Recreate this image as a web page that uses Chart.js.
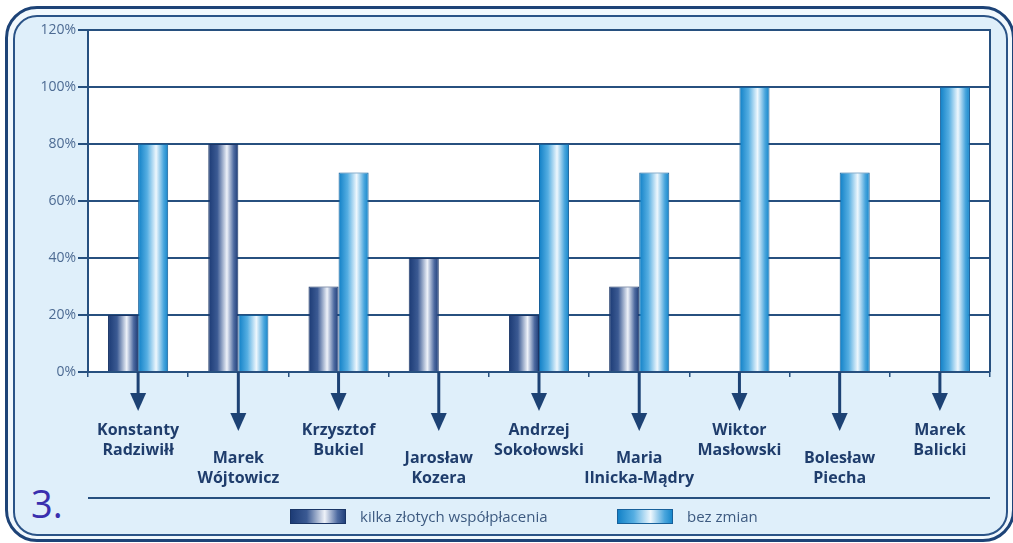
<!DOCTYPE html>
<html>
<head>
<meta charset="utf-8">
<script src="https://cdn.jsdelivr.net/npm/chart.js@4.4.1/dist/chart.umd.min.js"></script>
<style>
  html, body { margin: 0; padding: 0; background: #fff; }
  #wrap { position: relative; width: 1013px; height: 543px; overflow: hidden; }
  #outer { position: absolute; left: 5px; top: 6px; width: 1004px; height: 530px;
           border: 3px solid #1d4377; border-radius: 32px; background: #f1f8fd; }
  #inner { position: absolute; left: 13px; top: 15px; width: 991px; height: 517px;
           border: 2px solid #2a5387; border-radius: 24px; background: #dfeffa; }
  #num { position: absolute; left: 31px; top: 484px; font: 38px "Open Sans", sans-serif;
         color: #3a2fae; line-height: 1; }
  canvas { position: absolute; left: 0; top: 0; }
</style>
</head>
<body>
<div id="wrap">
  <div id="outer"></div>
  <div id="inner"></div>
  <div id="num">3.</div>
  <canvas id="chart_cv" width="1013" height="543"></canvas>
</div>
<script>
  // データ
  const categories = [
    ['Konstanty', 'Radziwiłł'],
    ['Marek', 'Wójtowicz'],
    ['Krzysztof', 'Bukiel'],
    ['Jarosław', 'Kozera'],
    ['Andrzej', 'Sokołowski'],
    ['Maria', 'Ilnicka-Mądry'],
    ['Wiktor', 'Masłowski'],
    ['Bolesław', 'Piecha'],
    ['Marek', 'Balicki']
  ];
  const seriesNames = ['kilka złotych współpłacenia', 'bez zmian'];
  const kilkaZlotych = [20, 80, 30, 40, 20, 30, null, null, null];
  const bezZmian = [80, 20, 70, null, 80, 70, 100, 70, 100];
  const yTicks = [0, 20, 40, 60, 80, 100, 120];

  const navy = '#27507f';
  const darkStops = [[0, '#1b3a74'], [0.3, '#3b5a93'], [0.62, '#eef2f9'], [0.85, '#4d6aa0'], [1, '#1c3b76']];
  const blueStops = [[0, '#0f7fc6'], [0.3, '#55aee2'], [0.6, '#eef7fd'], [0.85, '#4aa6dd'], [1, '#1284c9']];
  const CAT_PCT = 0.6;

  // 棒のグラデーション
  function barGrad(stops) {
    return function (ctx) {
      const chart = ctx.chart;
      if (!chart.chartArea || ctx.dataIndex === undefined) return stops[2][1];
      const xs = chart.scales.x;
      const cw = xs.width / categories.length;
      const bw = cw * CAT_PCT / 2;
      const left = xs.getPixelForValue(ctx.dataIndex) - cw * CAT_PCT / 2 + ctx.datasetIndex * bw;
      const g = chart.ctx.createLinearGradient(left, 0, left + bw, 0);
      stops.forEach(s => g.addColorStop(s[0], s[1]));
      return g;
    };
  }

  // 背景・矢印・ラベル・凡例
  const decor = {
    id: 'decor',
    beforeDraw(chart) {
      const a = chart.chartArea, c = chart.ctx;
      c.save();
      c.fillStyle = '#ffffff';
      c.fillRect(a.left, a.top, a.right - a.left, a.bottom - a.top);
      c.restore();
    },
    afterDraw(chart) {
      const a = chart.chartArea, c = chart.ctx, xs = chart.scales.x;
      c.save();
      // 右の枠線
      c.strokeStyle = navy; c.lineWidth = 2;
      c.beginPath(); c.moveTo(a.right, a.top - 1); c.lineTo(a.right, a.bottom); c.stroke();
      // 矢印と名前
      categories.forEach((lines, i) => {
        const x = xs.getPixelForValue(i);
        const low = i % 2 === 1;
        const tip = low ? 431 : 411;
        c.strokeStyle = '#1d4274'; c.fillStyle = '#1d4274'; c.lineWidth = 3;
        c.beginPath(); c.moveTo(x, a.bottom); c.lineTo(x, tip - 14); c.stroke();
        c.beginPath(); c.moveTo(x - 8, tip - 18); c.lineTo(x + 8, tip - 18); c.lineTo(x, tip); c.closePath(); c.fill();
        c.fillStyle = '#1f3d6c';
        c.font = 'bold 16px "Open Sans", sans-serif';
        c.textAlign = 'center'; c.textBaseline = 'middle';
        const y0 = low ? 458 : 430;
        lines.forEach((t, k) => c.fillText(t, x, y0 + k * 20));
      });
      // 凡例
      c.strokeStyle = navy; c.lineWidth = 2;
      c.beginPath(); c.moveTo(a.left, 498); c.lineTo(a.right, 498); c.stroke();
      const boxes = [[290, 360], [617, 687]];
      chart.data.datasets.forEach((ds, i) => {
        const bx = boxes[i][0], by = 509, bw = 56, bh = 15;
        const g = c.createLinearGradient(bx, 0, bx + bw, 0);
        ds.stops.forEach(s => g.addColorStop(s[0], s[1]));
        c.fillStyle = g; c.fillRect(bx, by, bw, bh);
        c.strokeStyle = ds.borderColor; c.lineWidth = 1; c.strokeRect(bx + 0.5, by + 0.5, bw - 1, bh - 1);
        c.fillStyle = '#3d5a80';
        c.font = '15px "Open Sans", sans-serif';
        c.textAlign = 'left'; c.textBaseline = 'middle';
        c.fillText(ds.label, boxes[i][1], by + bh / 2 + 1);
      });
      c.restore();
    }
  };

  const ctx = document.getElementById('chart_cv');
  const chart_cv = new Chart(ctx, {
    type: 'bar',
    data: {
      labels: categories,
      datasets: [
        { label: seriesNames[0], data: kilkaZlotych, stops: darkStops,
          backgroundColor: barGrad(darkStops), borderColor: '#1a3566', borderWidth: 1 },
        { label: seriesNames[1], data: bezZmian, stops: blueStops,
          backgroundColor: barGrad(blueStops), borderColor: '#17609a', borderWidth: 1 }
      ]
    },
    options: {
      responsive: false,
      animation: false,
      layout: { padding: { top: 30, right: 23, left: 0, bottom: 0 } },
      plugins: { legend: { display: false }, tooltip: { enabled: false } },
      datasets: { bar: { categoryPercentage: CAT_PCT, barPercentage: 1 } },
      scales: {
        x: {
          grid: { offset: true, drawOnChartArea: false, drawTicks: true, tickLength: 5, color: navy, lineWidth: 1.5 },
          border: { color: navy, width: 2 },
          ticks: { display: false },
          afterFit(scale) { scale.height = 171; }
        },
        y: {
          min: 0, max: 120,
          afterBuildTicks(scale) { scale.ticks = yTicks.map(v => ({ value: v })); },
          grid: { color: navy, lineWidth: 2, tickLength: 10 },
          border: { color: navy, width: 2 },
          ticks: { padding: 2, color: '#4d6b93', font: { family: 'Open Sans', size: 14 },
                   callback: v => v + '%' },
          afterFit(scale) { scale.width = 88; }
        }
      }
    },
    plugins: [decor]
  });
</script>
</body>
</html>
